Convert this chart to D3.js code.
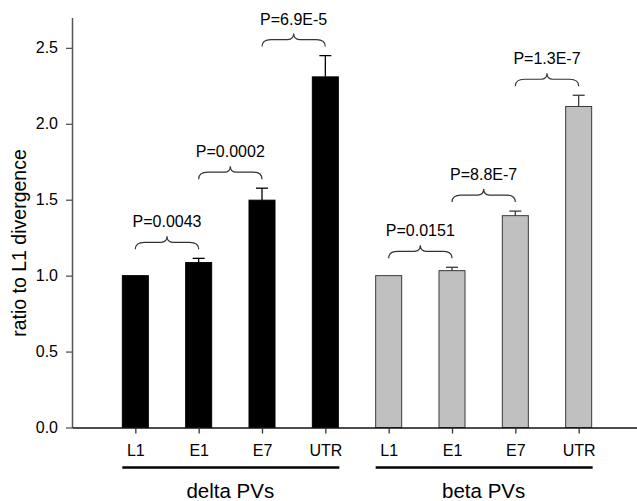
<!DOCTYPE html>
<html>
<head>
<meta charset="utf-8">
<script src="https://cdn.jsdelivr.net/npm/d3@7"></script>
<style>
  body { margin: 0; background: #fff; }
  text { font-family: "Liberation Sans", Arial, sans-serif; fill: #000; }
</style>
</head>
<body>
<svg width="637" height="501"></svg>
<script>
var groups = ["delta PVs", "beta PVs"];
var regions = ["L1", "E1", "E7", "UTR"];
var deltaMeans = [1.0, 1.086, 1.497, 2.309];
var deltaErrs = [0, 0.028, 0.079, 0.14];
var betaMeans = [1.0, 1.033, 1.395, 2.114];
var betaErrs = [0, 0.022, 0.03, 0.074];
var deltaP = ["P=0.0043", "P=0.0002", "P=6.9E-5"];
var betaP = ["P=0.0151", "P=8.8E-7", "P=1.3E-7"];
var yTicks = [0, 0.5, 1.0, 1.5, 2.0, 2.5];

var svg = d3.select("svg"),
    width = +svg.attr("width"),
    height = +svg.attr("height");

var x = d3.scaleLinear().domain([0, 9]).range([72, 642]);
var y = d3.scaleLinear().domain([0, 2.7]).range([427.5, 17.5]);

var fills = ["#000000", "#c0c0c0"],
    strokes = ["#000000", "#3a3a3a"];

// flatten bars
var bars = [];
[[deltaMeans, deltaErrs], [betaMeans, betaErrs]].forEach(function(s, g) {
  regions.forEach(function(r, i) {
    bars.push({ g: g, i: i, pos: g * 4 + i + 1, label: r, mean: s[0][i], err: s[1][i] });
  });
});

var bw = 26;

svg.append("g").selectAll("rect")
  .data(bars)
  .enter().append("rect")
    .attr("x", function(d) { return x(d.pos) - bw / 2; })
    .attr("y", function(d) { return y(d.mean); })
    .attr("width", bw)
    .attr("height", function(d) { return y(0) - y(d.mean); })
    .attr("fill", function(d) { return fills[d.g]; })
    .attr("stroke", function(d) { return strokes[d.g]; })
    .attr("stroke-width", 1);

// error bars (upper only)
var eb = svg.append("g").attr("class", "errors")
  .selectAll("g")
  .data(bars.filter(function(d) { return d.err > 0; }))
  .enter().append("g")
    .attr("stroke", function(d) { return strokes[d.g]; })
    .attr("stroke-width", 1.3);
eb.append("line")
    .attr("x1", function(d) { return x(d.pos); })
    .attr("x2", function(d) { return x(d.pos); })
    .attr("y1", function(d) { return y(d.mean); })
    .attr("y2", function(d) { return y(d.mean + d.err); });
eb.append("line")
    .attr("x1", function(d) { return x(d.pos) - 6; })
    .attr("x2", function(d) { return x(d.pos) + 6; })
    .attr("y1", function(d) { return y(d.mean + d.err); })
    .attr("y2", function(d) { return y(d.mean + d.err); });

// axes
var yAxis = svg.append("g")
    .attr("transform", "translate(72,0)")
    .call(d3.axisLeft(y).tickValues(yTicks).tickFormat(d3.format(".1f"))
      .tickSize(6).tickPadding(8).tickSizeOuter(0));
yAxis.select(".domain").attr("stroke", "#555").attr("stroke-width", 1.5);
yAxis.selectAll(".tick line").attr("stroke", "#555").attr("stroke-width", 1.3);
yAxis.selectAll("text").style("font-size", "16px").attr("fill", "#111");

var xAxis = svg.append("g")
    .attr("transform", "translate(0," + y(0) + ")")
    .call(d3.axisBottom(x).tickValues(bars.map(function(d) { return d.pos; }))
      .tickFormat(function(p) { return bars[p - 1].label; })
      .tickSize(6).tickPadding(11).tickSizeOuter(0));
xAxis.select(".domain").attr("stroke", "#111").attr("stroke-width", 1.5);
xAxis.selectAll(".tick line").attr("stroke", "#333").attr("stroke-width", 1.3);
xAxis.selectAll("text").style("font-size", "16px").attr("fill", "#111");

// group lines + labels
groups.forEach(function(name, g) {
  var p0 = g * 4 + 1, p1 = g * 4 + 4;
  svg.append("line")
    .attr("x1", x(p0) - 13).attr("x2", x(p1) + 14)
    .attr("y1", 467.5).attr("y2", 467.5)
    .attr("stroke", "#000").attr("stroke-width", 2.5);
  svg.append("text")
    .attr("x", (x(p0) + x(p1)) / 2)
    .attr("y", 498)
    .attr("text-anchor", "middle")
    .style("font-size", "20.5px")
    .text(name);
});

svg.append("text")
  .attr("transform", "translate(26,243) rotate(-90)")
  .attr("text-anchor", "middle")
  .style("font-size", "19.5px")
  .text("ratio to L1 divergence");

// curly braces with p values
function brace(x0, x1, yl) {
  var xm = (x0 + x1) / 2;
  return "M" + x0 + "," + (yl + 7) +
    "Q" + x0 + "," + yl + " " + (x0 + 9) + "," + yl +
    "L" + (xm - 6) + "," + yl +
    "Q" + xm + "," + yl + " " + xm + "," + (yl - 6) +
    "Q" + xm + "," + yl + " " + (xm + 6) + "," + yl +
    "L" + (x1 - 9) + "," + yl +
    "Q" + x1 + "," + yl + " " + x1 + "," + (yl + 7);
}

var pairs = [];
[deltaP, betaP].forEach(function(ps, g) {
  ps.forEach(function(p, i) {
    var a = bars[g * 4 + i], b = bars[g * 4 + i + 1];
    pairs.push({ a: a, b: b, p: p });
  });
});

var br = svg.append("g").selectAll("g")
  .data(pairs)
  .enter().append("g");
br.append("path")
    .attr("d", function(d) {
      return brace(x(d.a.pos), x(d.b.pos), y(d.b.mean + d.b.err) - 16);
    })
    .attr("fill", "none")
    .attr("stroke", "#333")
    .attr("stroke-width", 1.2);
br.append("text")
    .attr("x", function(d) { return (x(d.a.pos) + x(d.b.pos)) / 2; })
    .attr("y", function(d) { return y(d.b.mean + d.b.err) - 31; })
    .attr("text-anchor", "middle")
    .style("font-size", "16px")
    .text(function(d) { return d.p; });
</script>
</body>
</html>
